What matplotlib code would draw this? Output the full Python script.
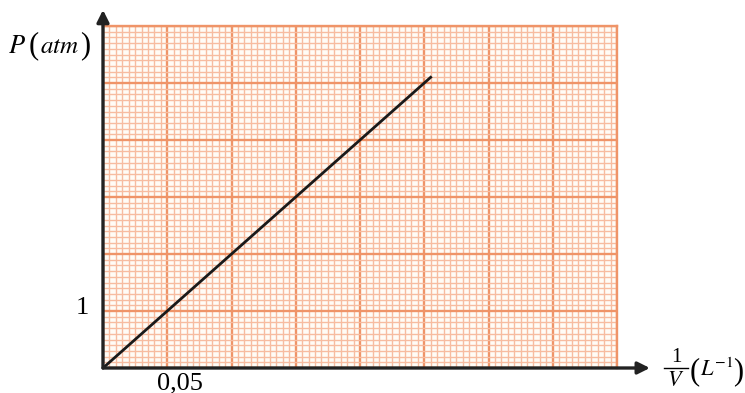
import matplotlib.pyplot as plt
from matplotlib.lines import Line2D
import numpy as np

plt.rcParams['mathtext.fontset'] = 'stix'
plt.rcParams['font.family'] = 'Liberation Serif'

# data
inv_v = [0.0, 0.255]      # 1/V (L^-1)
pressure = [0.0, 5.1]     # P (atm)
x_max, y_max = 0.40, 6
x_major, y_major = 0.05, 1
x_label_tick = 0.05
y_label_tick = 1

fig = plt.figure(figsize=(7.45, 3.93), dpi=100)
ax = fig.add_axes([103 / 745, 25 / 393, 514 / 745, 342 / 393])

major_c = '#EF9468'
minor_c = '#F7BCA0'

ax.set_xlim(0, x_max)
ax.set_ylim(0, y_max)
ax.set_xticks(np.arange(0, x_max + 1e-9, x_major))
ax.set_yticks(np.arange(0, y_max + 1e-9, y_major))
ax.set_xticks(np.arange(0, x_max + 1e-9, x_major / 10), minor=True)
ax.set_yticks(np.arange(0, y_max + 1e-9, y_major / 10), minor=True)
ax.grid(which='minor', color=minor_c, lw=1.0)
ax.grid(which='major', color=major_c, lw=1.7)
ax.set_axisbelow(True)
ax.tick_params(which='both', length=0, labelbottom=False, labelleft=False)
ax.set_facecolor('#FFFCF6')
for s in ['top', 'right']:
    ax.spines[s].set_color(major_c)
    ax.spines[s].set_linewidth(1.7)
for s in ['left', 'bottom']:
    ax.spines[s].set_visible(False)

ax.plot(inv_v, pressure, color='#1a1a1a', lw=2, zorder=5)

# axes with arrows
arrow = dict(arrowstyle='-|>', lw=2.4, color='#222222', mutation_scale=18,
             shrinkA=0, shrinkB=0)
ax.annotate('', xy=(1.064, 0), xytext=(0, 0), xycoords='axes fraction',
            arrowprops=arrow, annotation_clip=False, zorder=6)
ax.annotate('', xy=(0, 1.047), xytext=(0, 0), xycoords='axes fraction',
            arrowprops=arrow, annotation_clip=False, zorder=6)

# tick labels
ax.annotate('0,05', xy=(x_label_tick, 0), xytext=(9, -3), textcoords='offset points',
            ha='center', va='top', fontsize=19, annotation_clip=False)
ax.annotate(str(y_label_tick), xy=(0, y_label_tick), xytext=(-10, 2), textcoords='offset points',
            ha='right', va='center', fontsize=19, annotation_clip=False)

# axis titles
fig.text(8 / 745, 1 - 47 / 393, r'$P$', fontsize=19, ha='left', va='center')
fig.text(29 / 745, 1 - 46 / 393, '(', fontsize=22, ha='left', va='center')
fig.text(40 / 745, 1 - 47 / 393, r'$atm$', fontsize=18, ha='left', va='center')
fig.text(80 / 745, 1 - 46 / 393, ')', fontsize=22, ha='left', va='center')

fig.text(676 / 745, 1 - 357 / 393, '1', fontsize=15, ha='center', va='center')
fig.add_artist(Line2D([664 / 745, 688 / 745], [1 - 368 / 393, 1 - 368 / 393],
                      color='black', lw=1))
fig.text(676 / 745, 1 - 381 / 393, r'$V$', fontsize=16, ha='center', va='center')
fig.text(690 / 745, 1 - 372 / 393, '(', fontsize=22, ha='left', va='center')
fig.text(700 / 745, 1 - 370 / 393, r'$L^{-1}$', fontsize=16, ha='left', va='center')
fig.text(733 / 745, 1 - 372 / 393, ')', fontsize=22, ha='left', va='center')

plt.savefig('out.png', dpi=100)
